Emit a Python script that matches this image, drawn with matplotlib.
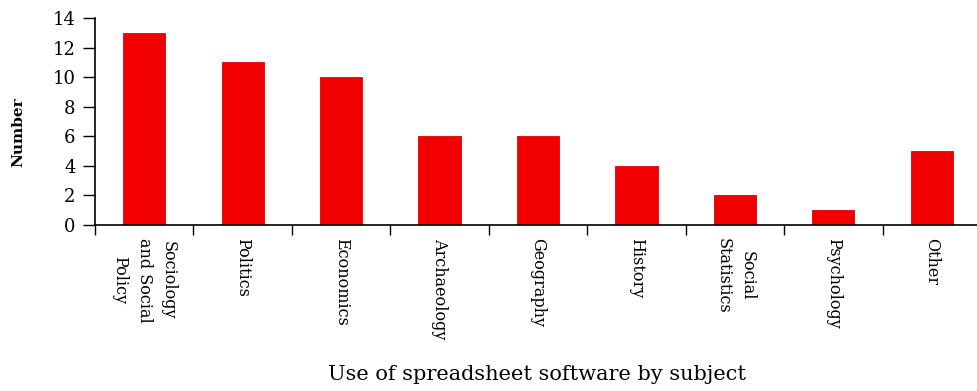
import matplotlib
matplotlib.use("Agg")
import matplotlib.pyplot as plt
import numpy as np

# subjects and number of uses
subjects = ["Sociology\nand Social\nPolicy", "Politics", "Economics", "Archaeology",
            "Geography", "History", "Social\nStatistics", "Psychology", "Other"]
counts = [13, 11, 10, 6, 6, 4, 2, 1, 5]
y_ticks = [0, 2, 4, 6, 8, 10, 12, 14]

plt.rcParams['font.family'] = ['DejaVu Serif']

fig = plt.figure(figsize=(9.78, 3.91), dpi=100)
ax = fig.add_axes([95 / 978, 166 / 391, 886 / 978, 207 / 391])

x = np.arange(len(subjects))
ax.bar(x, counts, width=0.43, color='#f20000', edgecolor='#e00000', linewidth=0.6, zorder=2)

ax.set_xlim(-0.5, len(subjects) - 0.5)
ax.set_ylim(0, 14)
ax.set_yticks(y_ticks)
ax.set_yticklabels([str(v) for v in y_ticks], fontsize=13)

# ticks sit between categories, labels at bar centres
ax.set_xticks(np.arange(len(subjects)) - 0.5)
ax.set_xticklabels([])
ax.tick_params(axis='x', length=7, width=1, direction='out')
ax.tick_params(axis='y', length=9, width=1, direction='out', pad=5)
for xi, name in zip(x, subjects):
    ax.text(xi, -0.85, name, rotation=270, ha='center', va='top',
            multialignment='center', fontsize=11.5, linespacing=1.55)

for side in ['top', 'right']:
    ax.spines[side].set_visible(False)
for side in ['left', 'bottom']:
    ax.spines[side].set_linewidth(1.2)

fig.text(18 / 978, 1 - 132 / 391, "Number", rotation=90, ha='center', va='center',
         fontsize=11, fontweight='bold')
fig.text(537 / 978, 1 - 375 / 391, "Use of spreadsheet software by subject",
         ha='center', va='center', fontsize=15)

fig.savefig("out.png", dpi=100)
